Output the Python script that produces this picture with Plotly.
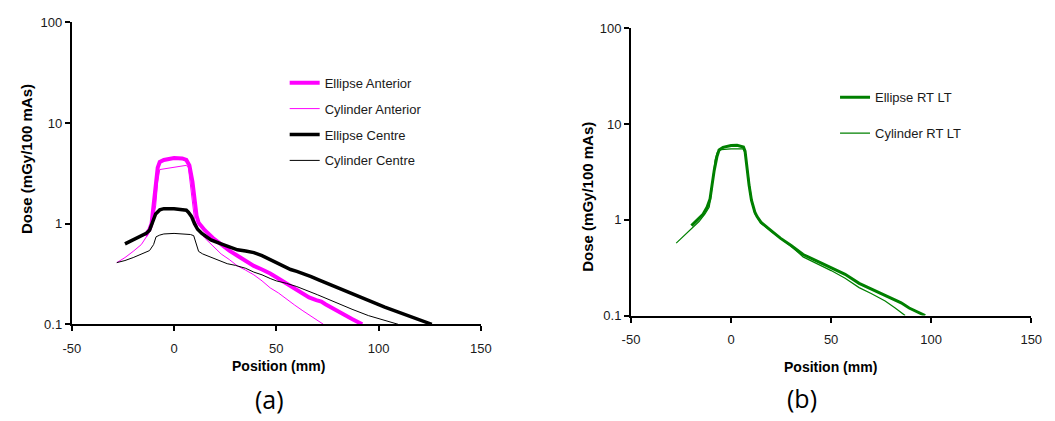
import plotly.graph_objects as go

# ---------------- data ----------------
# (a) panel
ea_x = [-14, -12, -11, -10, -9, -8, -7, -5, 0, 4, 6, 7.5, 9, 10, 11, 12, 15, 19, 23, 27, 31, 35, 39,
        43, 47, 51, 55, 59, 63, 66, 69.5, 72, 74, 78, 82, 87, 92]
ea_y = [0.76, 0.88, 1.0, 1.6, 2.6, 3.6, 4.1, 4.3, 4.5, 4.45, 4.3, 3.8, 2.6, 1.7, 1.2, 1.02, 0.86, 0.72,
        0.62, 0.54, 0.48, 0.43, 0.38, 0.35, 0.32, 0.285, 0.255, 0.23, 0.205, 0.185, 0.174, 0.168, 0.158,
        0.142, 0.127, 0.113, 0.1]

ca_x = [-28, -24, -20, -16, -12.8, -11, -9, -8, -7, -3, 0, 3, 6, 7, 8, 9, 10, 12, 15, 19, 23, 27, 31,
        35, 39, 43, 47, 51, 55, 59, 63, 68, 73]
ca_y = [0.41, 0.46, 0.53, 0.62, 0.78, 0.9, 1.5, 2.6, 3.45, 3.55, 3.62, 3.7, 3.8, 3.6, 2.5, 1.6, 1.1,
        0.86, 0.72, 0.6, 0.5, 0.44, 0.38, 0.345, 0.31, 0.27, 0.23, 0.205, 0.177, 0.155, 0.136, 0.117, 0.1]

ec_x = [-24, -20, -16, -13.6, -12, -11, -9, -7, -5, 0, 4, 6, 7, 8.5, 10, 11.5, 13.6, 16, 18, 23, 27,
        31, 35, 39, 43, 47, 51, 55, 57, 60, 63, 67, 71, 87, 103, 126]
ec_y = [0.63, 0.69, 0.75, 0.80, 0.86, 0.98, 1.25, 1.37, 1.41, 1.41, 1.39, 1.36, 1.30, 1.18, 1.0, 0.88,
        0.80, 0.73, 0.69, 0.63, 0.59, 0.55, 0.535, 0.515, 0.48, 0.44, 0.40, 0.365, 0.35, 0.335, 0.32,
        0.298, 0.275, 0.2, 0.148, 0.1]

cc_x = [-28, -24, -20, -16, -12, -10, -8.8, -7, -5, 0, 5, 8, 9.6, 11, 12, 14, 18.4, 22, 26, 30, 35,
        39, 43, 47, 50, 55, 60, 70, 79, 87, 95, 102, 109.5]
cc_y = [0.41, 0.43, 0.46, 0.50, 0.54, 0.62, 0.74, 0.77, 0.79, 0.80, 0.79, 0.78, 0.76, 0.62, 0.53, 0.50,
        0.46, 0.43, 0.40, 0.385, 0.36, 0.33, 0.31, 0.285, 0.27, 0.255, 0.237, 0.197, 0.164, 0.141, 0.122,
        0.11, 0.1]

# (b) panel
er_x = [-19.8, -17, -14, -12, -10.5, -9.5, -8.4, -7, -6, -4, 0, 3, 5, 6.2, 7, 7.8, 9, 10.2, 11.9, 13,
        15, 20, 24.8, 30, 36, 43, 50, 57, 64, 70, 75, 80, 85, 89, 93, 97]
er_y = [0.87, 0.98, 1.14, 1.35, 1.65, 2.3, 3.3, 4.6, 5.35, 5.7, 5.95, 6.0, 5.9, 5.75, 5.2, 3.5, 2.3, 1.6,
        1.2, 1.08, 0.94, 0.77, 0.64, 0.54, 0.434, 0.37, 0.318, 0.27, 0.217, 0.19, 0.172, 0.153, 0.136,
        0.12, 0.11, 0.1]

cr_x = [-27.4, -24, -20, -16, -13, -10.9, -10, -9, -8, -7, -5, 0, 4, 6, 7, 8, 9, 10.5, 12, 15, 20, 25,
        30, 36, 43, 50, 57, 64, 70, 77, 82, 87]
cr_y = [0.57, 0.67, 0.8, 0.96, 1.15, 1.36, 1.8, 2.9, 4.2, 5.0, 5.4, 5.5, 5.55, 5.5, 5.0, 3.5, 2.4, 1.5,
        1.15, 0.92, 0.76, 0.63, 0.53, 0.41, 0.35, 0.295, 0.245, 0.196, 0.17, 0.142, 0.12, 0.1]

y_ticks = [0.1, 1, 10, 100]
y_tick_text = ["0.1", "1", "10", "100"]
x_ticks = [-50, 0, 50, 100, 150]
x_tick_text = ["-50", "0", "50", "100", "150"]

# ---------------- figure ----------------
W, H = 1055, 421
MAG, BLK, GRN = "#FF00FF", "#000000", "#008000"
FONT = "Liberation Sans, Arial, sans-serif"

fig = go.Figure()

def add(x, y, name, color, width, xa, ya, legend, group):
    fig.add_trace(go.Scatter(x=x, y=y, mode="lines", name=name,
                             line=dict(color=color, width=width),
                             xaxis=xa, yaxis=ya, legend=legend, legendgroup=group))

add(ea_x, ea_y, "Ellipse Anterior", MAG, 4, "x", "y", "legend", "a1")
add(ca_x, ca_y, "Cylinder Anterior", MAG, 1, "x", "y", "legend", "a2")
add(ec_x, ec_y, "Ellipse Centre", BLK, 3.5, "x", "y", "legend", "a3")
add(cc_x, cc_y, "Cylinder Centre", BLK, 1, "x", "y", "legend", "a4")
add(er_x, er_y, "Ellipse RT LT", GRN, 3, "x2", "y2", "legend2", "b1")
add(cr_x, cr_y, "Cylinder RT LT", GRN, 1.2, "x2", "y2", "legend2", "b2")

def px_x(p):
    return p / W

def px_y(p):
    return 1 - p / H

TICKFONT = dict(family=FONT, size=13, color="#1a1a1a")
xax = dict(range=[-50, 150], tickvals=x_ticks, ticktext=x_tick_text, ticks="outside", ticklen=5,
           tickwidth=1.5, tickcolor="black", showline=True, linecolor="black", linewidth=2,
           showgrid=False, zeroline=False, tickfont=TICKFONT, fixedrange=True, ticklabelstandoff=6)
yax = dict(type="log", range=[-1, 2], tickvals=y_ticks, ticktext=y_tick_text, ticks="outside",
           ticklen=5, tickwidth=1.5, tickcolor="black", showline=True, linecolor="black", linewidth=2,
           showgrid=False, zeroline=False, tickfont=TICKFONT, fixedrange=True)

LEGFONT = dict(family=FONT, size=13, color="#1a1a1a")
fig.update_layout(
    width=W, height=H, margin=dict(l=0, r=0, t=0, b=0),
    paper_bgcolor="white", plot_bgcolor="white", showlegend=True,
    xaxis=dict(xax, domain=[px_x(64), px_x(481)], anchor="y"),
    yaxis=dict(yax, domain=[px_y(329), px_y(16)], anchor="x"),
    xaxis2=dict(xax, domain=[px_x(634), px_x(1042)], anchor="y2"),
    yaxis2=dict(yax, domain=[px_y(320), px_y(22)], anchor="x2"),
    legend=dict(x=px_x(281), y=px_y(63), xanchor="left", yanchor="top",
                font=LEGFONT, bgcolor="rgba(0,0,0,0)",
                traceorder="grouped", tracegroupgap=6, itemwidth=30),
    legend2=dict(x=px_x(842), y=px_y(78), xanchor="left", yanchor="top",
                 font=LEGFONT, bgcolor="rgba(0,0,0,0)",
                 traceorder="grouped", tracegroupgap=16, itemwidth=30),
)

def label(text, cx, cy, size, family=FONT, angle=0):
    return dict(text=text, x=px_x(cx), y=px_y(cy), xref="paper", yref="paper",
                xanchor="center", yanchor="middle", textangle=angle, showarrow=False,
                font=dict(family=family, size=size, color="black"))

ann = [
    label("<b>Dose (mGy/100 mAs)</b>", 18, 158, 15, angle=-90),
    label("<b>Dose (mGy/100 mAs)</b>", 590, 197, 15, angle=-90),
    label("<b>Position (mm)</b>", 275, 372, 14),
    label("<b>Position (mm)</b>", 837, 373, 14),
    label("(a)", 266, 407, 25, family="Open Sans, sans-serif"),
    label("(b)", 808, 405, 25, family="Open Sans, sans-serif"),
]
fig.update_layout(annotations=ann)

fig.write_html("out.html")
